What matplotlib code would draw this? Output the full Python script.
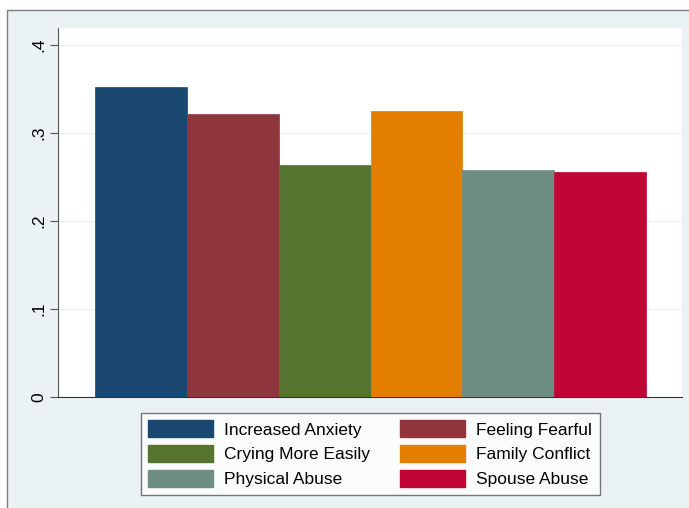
import matplotlib
matplotlib.use("Agg")
import matplotlib.pyplot as plt
from matplotlib.patches import Rectangle, Patch

plt.rcParams['font.family'] = ['Liberation Sans', 'DejaVu Sans']

categories = ["Increased Anxiety", "Feeling Fearful", "Crying More Easily",
              "Family Conflict", "Physical Abuse", "Spouse Abuse"]
values = [0.352, 0.322, 0.264, 0.325, 0.258, 0.256]
colors = ["#1A476F", "#90353B", "#55752F", "#E37E00", "#6E8E84", "#C10534"]
yticks = [0, 0.1, 0.2, 0.3, 0.4]
yticklabels = ["0", ".1", ".2", ".3", ".4"]

W, H = 689, 508
fig = plt.figure(figsize=(W / 100, H / 100), dpi=100)
fig.patch.set_facecolor("white")

# outer graph region (Stata style)
frame = Rectangle((7 / W, -0.05), 1.05, 1 - 10 / H + 0.05, transform=fig.transFigure,
                  facecolor="#EAF2F3", edgecolor="#7f7f7f", linewidth=1.0, zorder=-10)
fig.add_artist(frame)

ax = fig.add_axes([58 / W, 1 - 396.7 / H, (682 - 58) / W, (396.7 - 28) / H])
ax.set_zorder(5)
ax.set_facecolor("white")

x = list(range(len(categories)))
bars = ax.bar(x, values, width=1.0, color=colors, edgecolor=colors, linewidth=0.5, zorder=3)

ax.set_xlim(-0.903, 5.892)
ax.set_ylim(0, 0.4193)
ax.set_yticks(yticks)
ax.set_yticklabels(yticklabels, rotation=90, va="center", fontsize=12.5)
ax.set_xticks([])
ax.grid(axis="y", color="#EAF2F3", linewidth=1.0, zorder=0)
for s in ["top", "right"]:
    ax.spines[s].set_visible(False)
ax.spines["left"].set_color("#555555")
ax.spines["bottom"].set_color("#333333")
ax.tick_params(axis="y", length=5.5, color="#555555", pad=3)

order = [0, 2, 4, 1, 3, 5]
handles = [Patch(facecolor=colors[i], edgecolor=colors[i]) for i in order]
labels = [categories[i] for i in order]
leg = ax.legend(handles, labels, ncol=2, loc="center",
                bbox_to_anchor=(370.2 / W, 1 - 453.9 / H), bbox_transform=fig.transFigure,
                fontsize=12.5, frameon=True, fancybox=False, edgecolor="#555555",
                handlelength=3.74, handleheight=1.09, labelspacing=0.44,
                handletextpad=0.63, columnspacing=1.74, borderpad=0.44)
leg.get_frame().set_linewidth(1.0)
leg.get_frame().set_facecolor("white")

fig.savefig("out.png", dpi=100)
